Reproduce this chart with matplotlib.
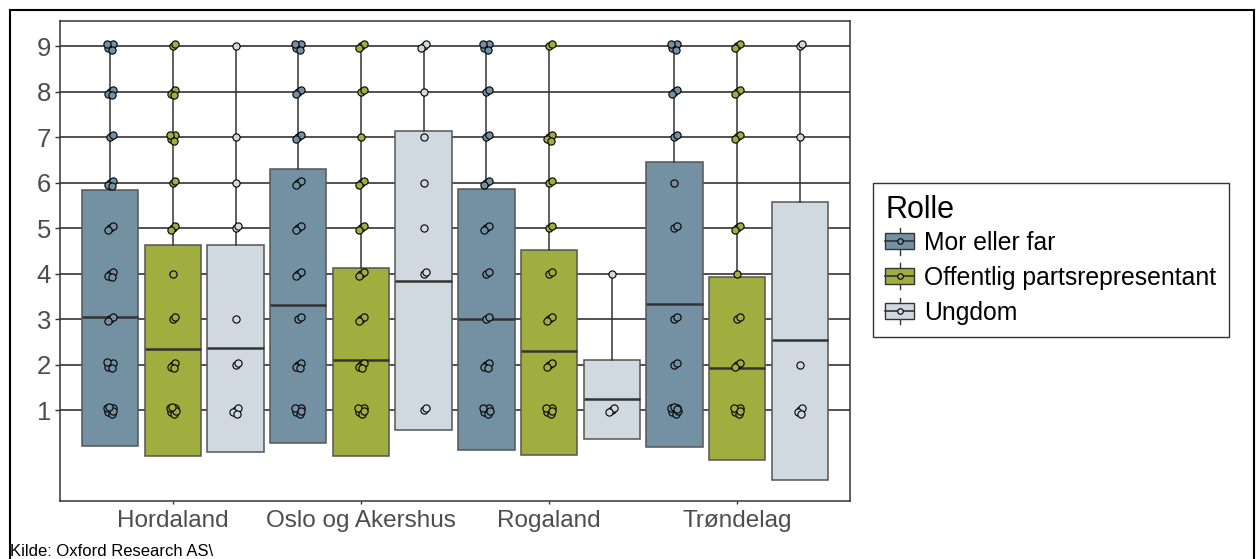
import numpy as np
import matplotlib.pyplot as plt
from matplotlib.lines import Line2D
from matplotlib.patches import Patch, Rectangle
from matplotlib.legend_handler import HandlerBase

plt.rcParams['font.family'] = ['Liberation Sans', 'DejaVu Sans']

# DATA
regions = ["Hordaland", "Oslo og Akershus", "Rogaland", "Trøndelag"]
roles = ["Mor eller far", "Offentlig partsrepresentant", "Ungdom"]
colors = ["#7491a4", "#a0ad3f", "#d0d8e0"]
values = [1, 2, 3, 4, 5, 6, 7, 8, 9]

# box statistics per role, one entry per region
box_low = [[0.22, 0.29, 0.12, 0.20],
           [0.00, 0.00, 0.03, -0.08],
           [0.09, 0.57, 0.38, -0.52]]
box_med = [[3.06, 3.32, 3.02, 3.35],
           [2.35, 2.10, 2.30, 1.94],
           [2.38, 3.84, 1.26, 2.55]]
box_high = [[5.84, 6.31, 5.87, 6.47],
            [4.64, 4.13, 4.52, 3.93],
            [4.64, 7.15, 2.10, 5.58]]
whisk_high = [[9, 9, 9, 9],
              [9, 9, 9, 9],
              [9, 9, 4.05, 9]]

# number of answers for the values 1..9
counts = [
    [[7, 5, 3, 4, 3, 4, 2, 4, 5], [6, 4, 2, 3, 3, 3, 3, 3, 5],
     [6, 4, 2, 2, 3, 3, 2, 2, 5], [8, 2, 2, 0, 2, 1, 2, 3, 5]],
    [[7, 4, 2, 1, 3, 2, 5, 4, 2], [6, 4, 3, 3, 3, 3, 1, 2, 3],
     [6, 3, 3, 2, 2, 2, 4, 0, 2], [6, 3, 2, 1, 3, 0, 3, 3, 3]],
    [[4, 2, 1, 0, 2, 1, 1, 0, 1], [2, 0, 0, 2, 1, 1, 1, 1, 3],
     [3, 0, 0, 1, 0, 0, 0, 0, 0], [4, 1, 0, 0, 0, 0, 1, 0, 2]],
]

# small fixed offsets so overlapping answers are visible
jit_x = [0.0, 0.014, -0.012, 0.008, -0.016, 0.017, -0.005, 0.011]
jit_y = [0.0, 0.05, -0.04, -0.07, 0.06, -0.02, 0.08, 0.03]

dark = "#333333"
tick_col = "#4d4d4d"


class BoxHandler(HandlerBase):
    def create_artists(self, legend, orig_handle, xdescent, ydescent,
                       width, height, fontsize, trans):
        fc = orig_handle.get_facecolor()
        x0, y0 = -xdescent, -ydescent
        cx, cy = x0 + width / 2, y0 + height / 2
        wh = Line2D([cx, cx], [cy - height * 0.6, cy + height * 0.6],
                    color=dark, lw=1, transform=trans)
        rect = Rectangle((x0, cy - height * 0.36), width, height * 0.72,
                         facecolor=fc, edgecolor=dark, lw=1, transform=trans)
        med = Line2D([x0, x0 + width], [cy, cy], color=dark, lw=1.2, transform=trans)
        dot = Line2D([cx], [cy], marker='o', ms=4, mfc=fc, mec='black',
                     mew=0.8, ls='none', transform=trans)
        return [wh, rect, med, dot]


fig = plt.figure(figsize=(12.57, 5.59), dpi=100)
ax = fig.add_axes([60 / 1257, 1 - 501 / 559, 790 / 1257, 480 / 559])

for v in values:
    ax.axhline(v, color=dark, lw=1.2, zorder=0)

step = 1 / 3
for r, role in enumerate(roles):
    pos = np.arange(1, len(regions) + 1) + (r - 1) * step
    stats = []
    for g in range(len(regions)):
        stats.append(dict(q1=box_low[r][g], med=box_med[r][g], q3=box_high[r][g],
                          whislo=box_low[r][g], whishi=whisk_high[r][g], fliers=[]))
    ax.bxp(stats, positions=pos, widths=0.3, patch_artist=True,
           showfliers=False, showcaps=False, manage_ticks=False,
           boxprops=dict(facecolor=colors[r], edgecolor="#555555", lw=1.1),
           medianprops=dict(color=dark, lw=1.8),
           whiskerprops=dict(color=dark, lw=1.1), zorder=1)
    for g in range(len(regions)):
        xs, ys = [], []
        for v, n in zip(values, counts[r][g]):
            for k in range(n):
                xs.append(pos[g] + jit_x[k % len(jit_x)])
                ys.append(v + jit_y[k % len(jit_y)])
        ax.plot(xs, ys, 'o', ms=5.2, mfc=colors[r], mec='black', mew=0.8,
                ls='none', zorder=3)

ax.set_xlim(0.4, 4.6)
ax.set_ylim(-0.99, 9.56)
ax.set_yticks(values)
ax.set_xticks(np.arange(1, len(regions) + 1))
ax.set_xticklabels(regions)
ax.tick_params(axis='y', length=3.5, width=1, color=dark, labelsize=18.5,
               labelcolor=tick_col, pad=3)
ax.tick_params(axis='x', length=2.5, width=1, color=dark, labelsize=17.5,
               labelcolor=tick_col, pad=4)
for s in ax.spines.values():
    s.set_color(dark)
    s.set_linewidth(1.1)

handles = [Patch(facecolor=c) for c in colors]
leg = fig.legend(handles, roles, loc='upper left',
                 bbox_to_anchor=(873 / 1257, 1 - 183 / 559),
                 handler_map={Patch: BoxHandler()}, title="Rolle",
                 fontsize=17.8, title_fontsize=22, frameon=True, fancybox=False,
                 edgecolor='black', handlelength=1.17, handleheight=1.0,
                 handletextpad=0.4, labelspacing=0.42, borderpad=0.5,
                 borderaxespad=0)
leg._legend_box.align = "left"
leg._legend_box.sep = 3.5  # tighter gap under the title
leg.get_frame().set_linewidth(1.0)

fig.text(10 / 1257, 1 - 552 / 559, "Kilde: Oxford Research AS\\", fontsize=12,
         va='center', ha='left', color='black', fontstretch='condensed')

# outer frame
fig.add_artist(Line2D([10 / 1257, 1254 / 1257], [1 - 10 / 559, 1 - 10 / 559],
                      transform=fig.transFigure, color='black', lw=1.5))
fig.add_artist(Line2D([10 / 1257, 10 / 1257], [1 - 10 / 559, 0],
                      transform=fig.transFigure, color='black', lw=1.5))
fig.add_artist(Line2D([1254 / 1257, 1254 / 1257], [1 - 10 / 559, 0],
                      transform=fig.transFigure, color='black', lw=1.5))

fig.savefig("out.png", dpi=100)
